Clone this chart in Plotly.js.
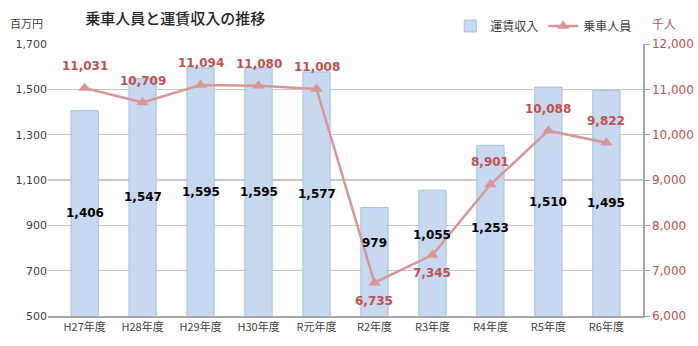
<!DOCTYPE html>
<html><head><meta charset="utf-8">
<script src="https://cdn.plot.ly/plotly-3.0.1.min.js"></script>
<style>html,body{margin:0;padding:0;background:#fff}#chart{width:698px;height:346px}</style>
</head><body><div id="chart"></div>
<script>
const categories = ["H27年度","H28年度","H29年度","H30年度","R元年度","R2年度","R3年度","R4年度","R5年度","R6年度"];
const revenue = [1406,1547,1595,1595,1577,979,1055,1253,1510,1495];
const passengers = [11031,10709,11094,11080,11008,6735,7345,8901,10088,9822];
const labelBelow = [false,false,false,false,false,true,true,false,false,false];
const leftTicks = [500,700,900,1100,1300,1500,1700];
const rightTicks = [6000,7000,8000,9000,10000,11000,12000];

// styling: small pixel nudges for bar labels (as placed in the original)
const barLabelNudge = [0,0,0,0,0,19,18,3,0,0];

const fmt = v => v.toLocaleString('en-US');
const JP = '"Noto Sans CJK JP", "DejaVu Sans", sans-serif';
const NUM = '"DejaVu Sans", sans-serif';
const yMin = 500;

const traces = [
  {type:'bar', x:categories, y:revenue, name:'運賃収入', width:0.47,
   marker:{color:'#c6d9f1', line:{color:'#a6c0e0', width:1}}, hoverinfo:'none'},
  {type:'scatter', mode:'lines+markers', x:categories, y:passengers, name:'乗車人員', yaxis:'y2',
   line:{color:'#d99694', width:2.5}, marker:{symbol:'triangle-up', size:11, color:'#d99694'}, hoverinfo:'none'}
];

const annotations = [];
categories.forEach((c,i)=>{
  annotations.push({x:c, y:(yMin+revenue[i])/2, xref:'x', yref:'y', text:'<b>'+fmt(revenue[i])+'</b>', showarrow:false,
    font:{family:NUM, size:12, color:'#000'}, yshift:barLabelNudge[i]});
  annotations.push({x:c, y:passengers[i], xref:'x', yref:'y2', text:'<b>'+fmt(passengers[i])+'</b>', showarrow:false,
    font:{family:NUM, size:12, color:'#c0504d'}, yshift: labelBelow[i] ? -18 : 22});
});
annotations.push({xref:'paper', yref:'paper', x:-0.068, y:1.04, xanchor:'left', yanchor:'bottom', text:'百万円', showarrow:false,
  font:{family:JP, size:11, color:'#404040'}});
annotations.push({xref:'paper', yref:'paper', x:1.012, y:1.035, xanchor:'left', yanchor:'bottom', text:'千人', showarrow:false,
  font:{family:JP, size:12, color:'#c0504d'}});

const layout = {
  width:698, height:346,
  margin:{l:48, r:55, t:44, b:30},
  paper_bgcolor:'#fff', plot_bgcolor:'#fff',
  title:{text:'乗車人員と運賃収入の推移', font:{family:JP, size:15, color:'#262626', weight:500}, x:0.122, xanchor:'left', xref:'container', yref:'container', y:0.945, yanchor:'middle'},
  showlegend:true,
  legend:{orientation:'h', x:0.913, xanchor:'right', xref:'container', yref:'container', y:0.925, yanchor:'middle', font:{family:JP, size:12, color:'#404040'}, bgcolor:'rgba(0,0,0,0)', traceorder:'normal'},
  xaxis:{type:'category', tickfont:{family:JP, size:11, color:'#404040'}, showline:true, linecolor:'#a6a6a6', linewidth:1.5, ticks:'', showgrid:false, fixedrange:true},
  yaxis:{range:[500,1700], tickvals:leftTicks, ticktext:leftTicks.map(fmt), tickfont:{family:NUM, size:11, color:'#404040'},
    showgrid:true, gridcolor:'#c8c8c8', gridwidth:1.5, zeroline:false, showline:false, ticks:'', ticklen:0},
  yaxis2:{overlaying:'y', side:'right', range:[6000,12000], tickvals:rightTicks, ticktext:rightTicks.map(fmt),
    tickfont:{family:NUM, size:12, color:'#c0504d'}, showgrid:false, zeroline:false, showline:true, linecolor:'#a6a6a6', linewidth:1.5,
    ticks:'outside', ticklen:5, tickcolor:'#a6a6a6'},
  annotations:annotations
};
Plotly.newPlot('chart', traces, layout, {displayModeBar:false, staticPlot:true});
</script></body></html>
